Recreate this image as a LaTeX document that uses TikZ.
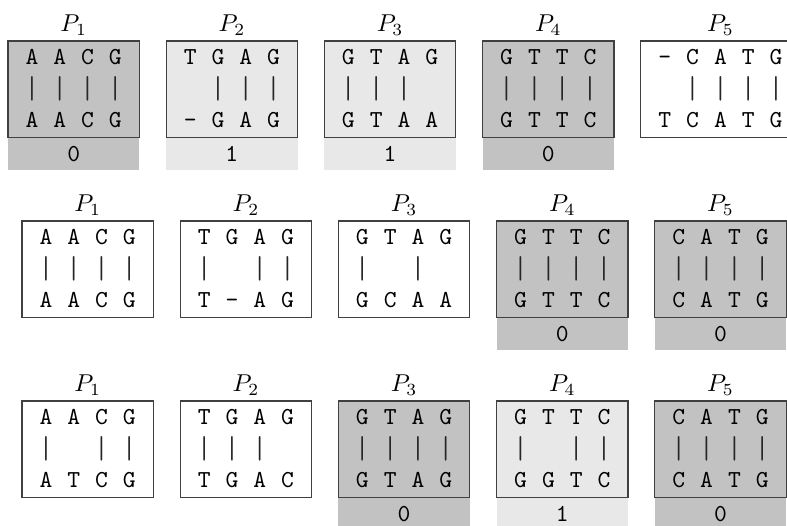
\documentclass[tikz,border=0pt]{standalone}
\usepackage{amsmath}
\usepackage{fontspec}
\usepackage{graphicx}
\usepackage{tikz}
\usetikzlibrary{calc,positioning}
\usepackage{xcolor}

\colorlet{zeroclr}{black!24}
\colorlet{oneclr}{black!9}

\tikzset{
  seq/.style={font=\ttfamily, inner sep=0pt, text height=6.1pt, text depth=0pt},
  bar/.style={font=\ttfamily, inner sep=0pt, text=black!85},
  plabel/.style={inner sep=0pt, anchor=base},
  boxline/.style={draw=black!75, line width=0.5pt}
}

% #1 name, #2 left, #3 top, #4 columns, #5 fill, #6 label, #7 pairs, #8 score
\newcommand{\alnbox}[8]{%
  \pgfmathsetmacro{\boxw}{48+27.8*(#4-1)}
  \def\tmpscore{#8}
  \ifx\tmpscore\empty\else
    \fill[#5] (#2,#3+96.7) rectangle ++(\boxw,32.3);
    \node[seq] (#1s) at (#2+\boxw/2,#3+113) {#8};
  \fi
  \draw[boxline, fill=#5] (#2,#3) rectangle ++(\boxw,96.7);
  \node[plabel] (#1lab) at (#2+\boxw/2,#3-9.5) {$#6$};
  \foreach \t/\m/\b [count=\i] in {#7} {
    \node[seq] (#1t\i) at (#2+24+27.8*\i-27.8,#3+16) {\t};
    \node[bar] (#1m\i) at (#2+24+27.8*\i-27.8,#3+48) {\scalebox{1}[1.3]{\m}};
    \node[seq] (#1b\i) at (#2+24+27.8*\i-27.8,#3+79) {\b};
  }
}

\begin{document}
\begin{tikzpicture}[x=0.41pt, y=-0.41pt]
\useasboundingbox (0,0) rectangle (787,525);

\alnbox{ap}{8}{41}{4}{zeroclr}{P_1}{A/|/A, A/|/A, C/|/C, G/|/G}{0}
\alnbox{aq}{166.2}{41}{4}{oneclr}{P_2}{T/ /-, G/|/G, A/|/A, G/|/G}{1}
\alnbox{ar}{324.4}{41}{4}{oneclr}{P_3}{G/|/G, T/|/T, A/|/A, G/ /A}{1}
\alnbox{as}{482.6}{41}{4}{zeroclr}{P_4}{G/|/G, T/|/T, T/|/T, C/|/C}{0}
\alnbox{at}{640.8}{41}{5}{white}{P_5}{-/ /T, C/|/C, A/|/A, T/|/T, G/|/G}{}

\alnbox{bp}{22}{221}{4}{white}{P_1}{A/|/A, A/|/A, C/|/C, G/|/G}{}
\alnbox{bq}{180.2}{221}{4}{white}{P_2}{T/|/T, G/ /-, A/|/A, G/|/G}{}
\alnbox{br}{338.4}{221}{4}{white}{P_3}{G/|/G, T/ /C, A/|/A, G/ /A}{}
\alnbox{bs}{496.6}{221}{4}{zeroclr}{P_4}{G/|/G, T/|/T, T/|/T, C/|/C}{0}
\alnbox{bt}{654.8}{221}{4}{zeroclr}{P_5}{C/|/C, A/|/A, T/|/T, G/|/G}{0}

\alnbox{cp}{22}{401}{4}{white}{P_1}{A/|/A, A/ /T, C/|/C, G/|/G}{}
\alnbox{cq}{180.2}{401}{4}{white}{P_2}{T/|/T, G/|/G, A/|/A, G/ /C}{}
\alnbox{cr}{338.4}{401}{4}{zeroclr}{P_3}{G/|/G, T/|/T, A/|/A, G/|/G}{0}
\alnbox{cs}{496.6}{401}{4}{oneclr}{P_4}{G/|/G, T/ /G, T/|/T, C/|/C}{1}
\alnbox{ct}{654.8}{401}{4}{zeroclr}{P_5}{C/|/C, A/|/A, T/|/T, G/|/G}{0}
\end{tikzpicture}
\end{document}
